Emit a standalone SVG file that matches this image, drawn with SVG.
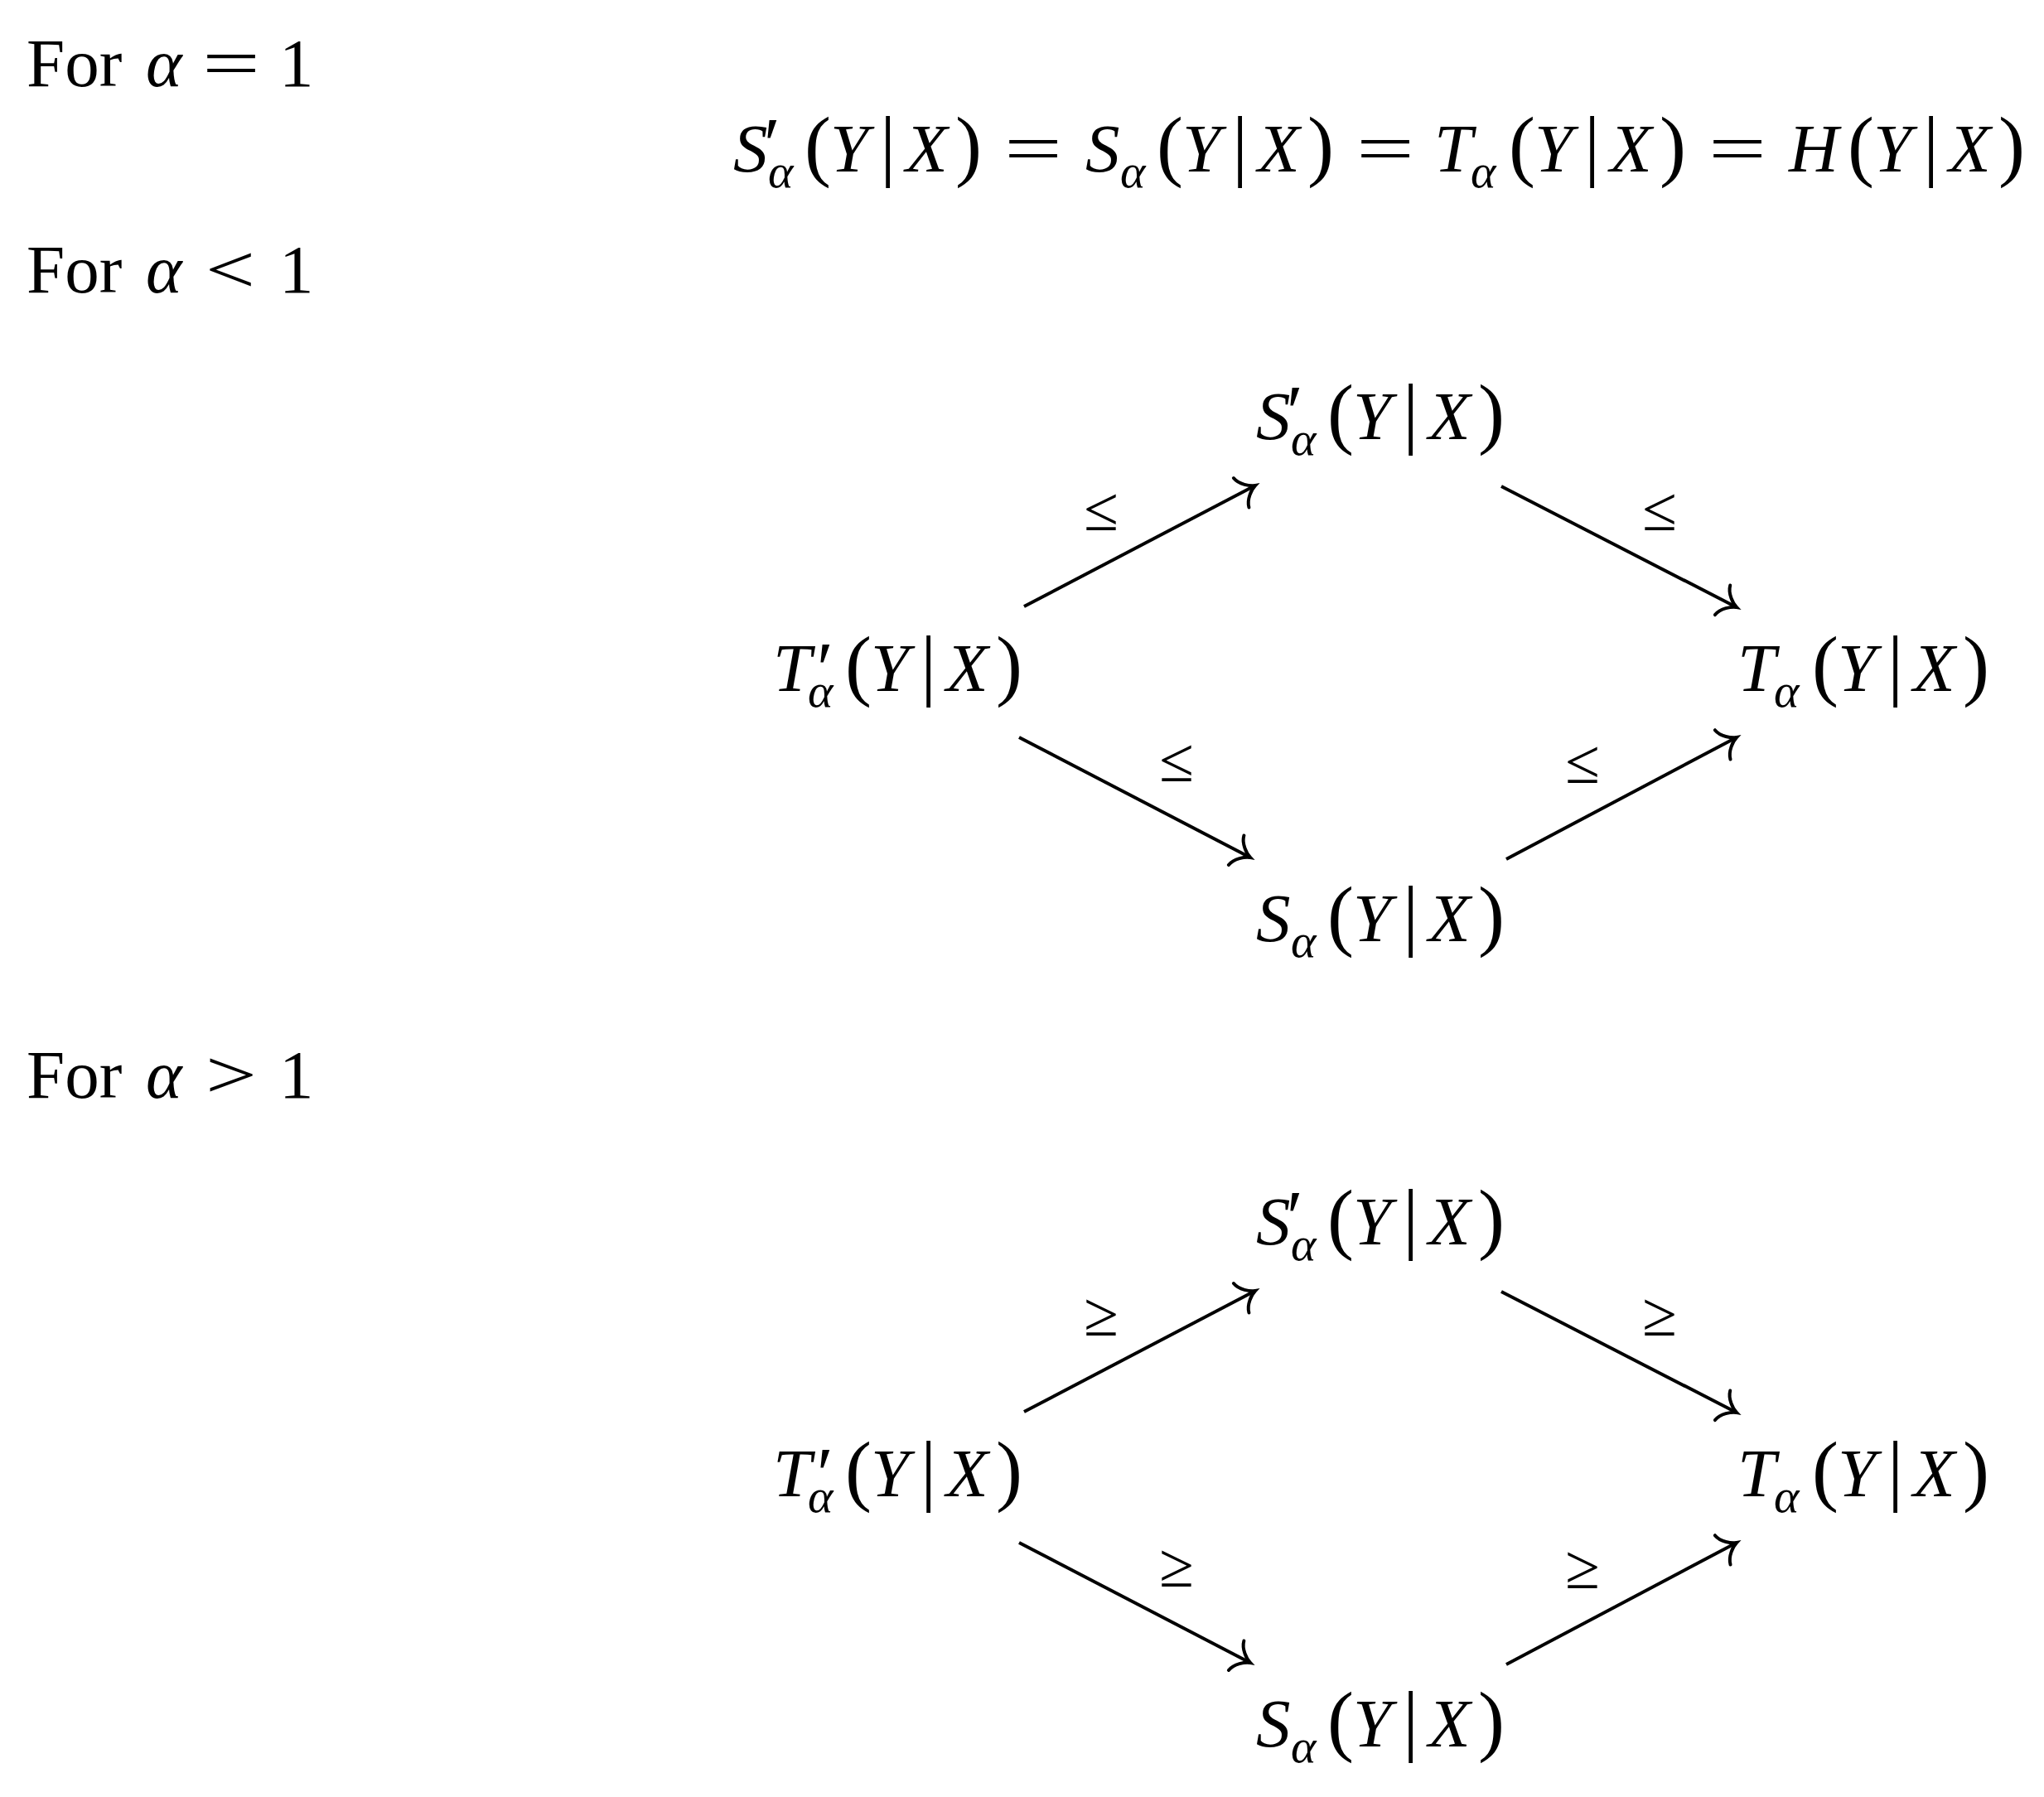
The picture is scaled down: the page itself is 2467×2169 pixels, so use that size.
<svg xmlns="http://www.w3.org/2000/svg" width="2467" height="2169" viewBox="0 0 2467 2169">
<style>
text { font-family: "Liberation Serif", "Times New Roman", serif; fill: #000; }
.r { font-size: 83px; }
.i { font-size: 83px; font-style: italic; }
.p { font-size: 96px; }
.s { font-size: 58px; font-style: italic; }
.pr { font-size: 90px; }
.lab { font-size: 76px; }
.edge { fill: none; stroke: #000; stroke-width: 4; marker-end: url(#to); }
</style>
<defs>
<marker id="to" markerUnits="userSpaceOnUse" markerWidth="60" markerHeight="60" viewBox="-30 -30 60 60" refX="0" refY="0" orient="auto" overflow="visible">
<path d="M -19,-20 C -17,-10 -6,-2 0,0 C -6,2 -17,10 -19,20" fill="none" stroke="#000" stroke-width="4" stroke-linecap="round"/>
</marker>
</defs>
<rect width="2467" height="2169" fill="#fff"/>

<!-- Section headings -->
<g id="head1">
<text class="r" x="32" y="104">For</text>
<text class="i" x="176" y="104">α</text>
<text class="r" x="244" y="104" textLength="70" lengthAdjust="spacingAndGlyphs">=</text>
<text class="r" x="337" y="104">1</text>
</g>
<g id="head2">
<text class="r" x="32" y="353">For</text>
<text class="i" x="176" y="353">α</text>
<text class="r" x="248" y="353" textLength="60" lengthAdjust="spacingAndGlyphs">&lt;</text>
<text class="r" x="337" y="353">1</text>
</g>
<g id="head3">
<text class="r" x="32" y="1325">For</text>
<text class="i" x="176" y="1325">α</text>
<text class="r" x="248" y="1325" textLength="62" lengthAdjust="spacingAndGlyphs">&gt;</text>
<text class="r" x="337" y="1325">1</text>
</g>

<!-- Equation for alpha = 1 -->
<g id="equation">
<text y="207">
<tspan class="i" x="885">S</tspan><tspan class="pr" x="922" y="205">′</tspan><tspan class="s" x="927" y="226">α</tspan>
<tspan class="p" x="971" y="207">(</tspan><tspan class="i" x="1002">Y</tspan><tspan class="p" x="1062">|</tspan><tspan class="i" x="1093">X</tspan><tspan class="p" x="1153">)</tspan>
</text>
<text class="r" x="1212" y="207" textLength="70" lengthAdjust="spacingAndGlyphs">=</text>
<text y="207">
<tspan class="i" x="1310">S</tspan><tspan class="s" x="1352" y="226">α</tspan>
<tspan class="p" x="1396" y="207">(</tspan><tspan class="i" x="1427">Y</tspan><tspan class="p" x="1487">|</tspan><tspan class="i" x="1518">X</tspan><tspan class="p" x="1578">)</tspan>
</text>
<text class="r" x="1637" y="207" textLength="70" lengthAdjust="spacingAndGlyphs">=</text>
<text y="207">
<tspan class="i" x="1731">T</tspan><tspan class="s" x="1775" y="226">α</tspan>
<tspan class="p" x="1821" y="207">(</tspan><tspan class="i" x="1852">Y</tspan><tspan class="p" x="1912">|</tspan><tspan class="i" x="1943">X</tspan><tspan class="p" x="2003">)</tspan>
</text>
<text class="r" x="2062" y="207" textLength="70" lengthAdjust="spacingAndGlyphs">=</text>
<text y="207">
<tspan class="i" x="2159">H</tspan>
<tspan class="p" x="2230" y="207">(</tspan><tspan class="i" x="2261">Y</tspan><tspan class="p" x="2321">|</tspan><tspan class="i" x="2352">X</tspan><tspan class="p" x="2412">)</tspan>
</text>
</g>

<!-- Diagram alpha < 1 -->
<g id="lt-Sp">
<text y="530"><tspan class="i" x="1516">S</tspan><tspan class="pr" x="1553" y="528">′</tspan><tspan class="s" x="1558" y="549">α</tspan><tspan class="p" x="1602" y="530">(</tspan><tspan class="i" x="1633">Y</tspan><tspan class="p" x="1693">|</tspan><tspan class="i" x="1724">X</tspan><tspan class="p" x="1784">)</tspan></text>
</g>
<g id="lt-Tp">
<text y="834"><tspan class="i" x="933">T</tspan><tspan class="pr" x="986" y="838">′</tspan><tspan class="s" x="975" y="853">α</tspan><tspan class="p" x="1020" y="834">(</tspan><tspan class="i" x="1051">Y</tspan><tspan class="p" x="1111">|</tspan><tspan class="i" x="1142">X</tspan><tspan class="p" x="1202">)</tspan></text>
</g>
<g id="lt-T">
<text y="834"><tspan class="i" x="2097">T</tspan><tspan class="s" x="2141" y="853">α</tspan><tspan class="p" x="2187" y="834">(</tspan><tspan class="i" x="2218">Y</tspan><tspan class="p" x="2278">|</tspan><tspan class="i" x="2309">X</tspan><tspan class="p" x="2369">)</tspan></text>
</g>
<g id="lt-S">
<text y="1136"><tspan class="i" x="1516">S</tspan><tspan class="s" x="1558" y="1155">α</tspan><tspan class="p" x="1602" y="1136">(</tspan><tspan class="i" x="1633">Y</tspan><tspan class="p" x="1693">|</tspan><tspan class="i" x="1724">X</tspan><tspan class="p" x="1784">)</tspan></text>
</g>

<!-- Diagram alpha > 1 -->
<g id="gt-Sp">
<text y="1502"><tspan class="i" x="1516">S</tspan><tspan class="pr" x="1553" y="1500">′</tspan><tspan class="s" x="1558" y="1521">α</tspan><tspan class="p" x="1602" y="1502">(</tspan><tspan class="i" x="1633">Y</tspan><tspan class="p" x="1693">|</tspan><tspan class="i" x="1724">X</tspan><tspan class="p" x="1784">)</tspan></text>
</g>
<g id="gt-Tp">
<text y="1806"><tspan class="i" x="933">T</tspan><tspan class="pr" x="986" y="1810">′</tspan><tspan class="s" x="975" y="1825">α</tspan><tspan class="p" x="1020" y="1806">(</tspan><tspan class="i" x="1051">Y</tspan><tspan class="p" x="1111">|</tspan><tspan class="i" x="1142">X</tspan><tspan class="p" x="1202">)</tspan></text>
</g>
<g id="gt-T">
<text y="1806"><tspan class="i" x="2097">T</tspan><tspan class="s" x="2141" y="1825">α</tspan><tspan class="p" x="2187" y="1806">(</tspan><tspan class="i" x="2218">Y</tspan><tspan class="p" x="2278">|</tspan><tspan class="i" x="2309">X</tspan><tspan class="p" x="2369">)</tspan></text>
</g>
<g id="gt-S">
<text y="2108"><tspan class="i" x="1516">S</tspan><tspan class="s" x="1558" y="2127">α</tspan><tspan class="p" x="1602" y="2108">(</tspan><tspan class="i" x="1633">Y</tspan><tspan class="p" x="1693">|</tspan><tspan class="i" x="1724">X</tspan><tspan class="p" x="1784">)</tspan></text>
</g>

<g id="connectors">
<path class="edge" d="M1236,732 L1515,586"/>
<path class="edge" d="M1812,587 L2096,733"/>
<path class="edge" d="M1230,890 L1509,1035"/>
<path class="edge" d="M1818,1037 L2096,890"/>
<path class="edge" d="M1236,1704 L1515,1558"/>
<path class="edge" d="M1812,1559 L2096,1705"/>
<path class="edge" d="M1230,1862 L1509,2007"/>
<path class="edge" d="M1818,2009 L2096,1862"/>
</g>

<g id="labels">
<text class="lab" x="1329" y="640" text-anchor="middle">≤</text>
<text class="lab" x="2003" y="640" text-anchor="middle">≤</text>
<text class="lab" x="1420" y="943" text-anchor="middle">≤</text>
<text class="lab" x="1910" y="945" text-anchor="middle">≤</text>
<text class="lab" x="1329" y="1612" text-anchor="middle">≥</text>
<text class="lab" x="2003" y="1612" text-anchor="middle">≥</text>
<text class="lab" x="1420" y="1915" text-anchor="middle">≥</text>
<text class="lab" x="1910" y="1917" text-anchor="middle">≥</text>
</g>
</svg>
